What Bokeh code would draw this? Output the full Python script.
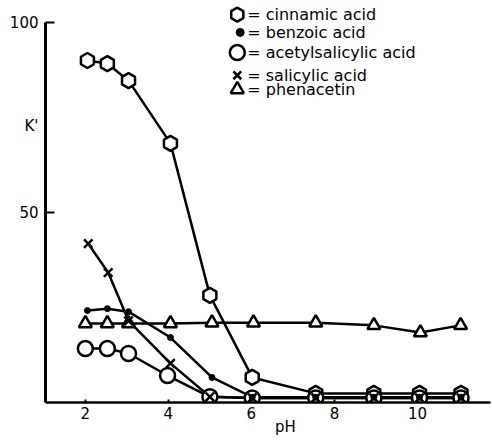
import numpy as np
from bokeh.plotting import figure
from bokeh.models import Range1d, FixedTicker, LinearAxis
from bokeh.core.properties import value
from bokeh.embed import file_html
from bokeh.resources import INLINE

FONT = "DejaVu Sans"

# capacity factor K' versus mobile-phase pH
ph_cinnamic = [2.05, 2.53, 3.04, 4.05, 5.0, 6.02, 7.55, 8.95, 10.05, 11.05]
k_cinnamic = [90.0, 89.2, 84.7, 68.2, 28.2, 6.6, 2.4, 2.4, 2.4, 2.4]

ph_benzoic = [2.05, 2.53, 3.04, 4.05, 5.05, 6.02, 7.55, 8.95, 10.05, 11.05]
k_benzoic = [24.2, 24.7, 23.9, 17.1, 6.6, 1.4, 1.4, 1.4, 1.4, 1.4]

ph_acetylsal = [2.0, 2.53, 3.04, 3.98, 5.0, 6.02, 7.55, 8.95, 10.05, 11.05]
k_acetylsal = [14.2, 14.2, 12.9, 7.1, 1.5, 1.2, 1.2, 1.2, 1.2, 1.2]

ph_salicylic = [2.07, 2.55, 3.04, 4.05, 5.0, 6.02, 7.55, 8.95, 10.05, 11.05]
k_salicylic = [41.8, 34.2, 21.5, 10.3, 1.5, 1.2, 1.2, 1.2, 1.2, 1.2]

ph_phenacetin = [2.0, 2.53, 3.04, 4.05, 5.05, 6.05, 7.55, 8.95, 10.07, 11.04]
k_phenacetin = [20.8, 20.8, 20.8, 20.8, 21.0, 21.0, 21.0, 20.3, 18.4, 20.3]

legend_names = ["= cinnamic acid", "= benzoic acid", "= acetylsalicylic acid",
                "= salicylic acid", "= phenacetin"]

x_ticks = [2, 4, 6, 8, 10]
y_ticks = [50, 100]
y_title_at = 72.9
x_title_at = 6.82

p = figure(width=492, height=440, output_backend="svg", toolbar_location=None,
           x_range=Range1d(1.04, 11.76), y_range=Range1d(0, 105.8),
           min_border_left=45, min_border_right=2, min_border_top=0,
           min_border_bottom=38)
p.outline_line_color = None
p.xgrid.grid_line_color = None
p.ygrid.grid_line_color = None
p.background_fill_color = "white"

p.xaxis.ticker = FixedTicker(ticks=x_ticks)
p.xaxis.minor_tick_line_color = None
p.xaxis.major_tick_in = 3
p.xaxis.major_tick_out = 0
p.xaxis.axis_line_width = 2.5
p.xaxis.major_tick_line_width = 2
p.xaxis.major_label_standoff = 4
p.xaxis.major_label_text_font = FONT
p.xaxis.major_label_text_font_size = "15px"
p.xaxis.major_label_text_color = "black"

# "pH" written under the tick labels by a bare second axis
ph_title = LinearAxis(ticker=FixedTicker(ticks=[x_title_at]),
                      major_label_overrides={x_title_at: "pH"},
                      axis_line_color=None, major_tick_line_color=None,
                      minor_tick_line_color=None, major_tick_in=0,
                      major_tick_out=0, major_label_standoff=-4,
                      major_label_text_font=FONT,
                      major_label_text_font_size="15px",
                      major_label_text_color="black")
p.add_layout(ph_title, "below")

# y axis: tick marks at 50 and 100 (minor ticks), labels plus K' (major ticks)
p.yaxis.ticker = FixedTicker(ticks=[y_ticks[0], y_title_at, y_ticks[1]],
                             minor_ticks=y_ticks)
p.yaxis.major_label_overrides = {y_title_at: "K'"}
p.yaxis.bounds = (0, 100)
p.yaxis.major_tick_line_color = None
p.yaxis.major_tick_in = 0
p.yaxis.major_tick_out = 0
p.yaxis.minor_tick_in = 9
p.yaxis.minor_tick_out = 0
p.yaxis.minor_tick_line_width = 2
p.yaxis.minor_tick_line_color = "black"
p.yaxis.axis_line_width = 3
p.yaxis.major_label_standoff = 7
p.yaxis.major_label_text_font = FONT
p.yaxis.major_label_text_font_size = "15px"
p.yaxis.major_label_text_color = "black"

LW = 2.5
series = [
    (ph_cinnamic, k_cinnamic),
    (ph_benzoic, k_benzoic),
    (ph_acetylsal, k_acetylsal),
    (ph_salicylic, k_salicylic),
    (ph_phenacetin, k_phenacetin),
]
for xs, ys in series:
    p.line(xs, ys, line_color="black", line_width=LW)

# open markers first (white fill knocks out the curves), filled/crossed on top
p.scatter(ph_cinnamic, k_cinnamic, marker="hex", size=15, angle=np.pi / 2,
          fill_color="white", line_color="black", line_width=LW)
p.scatter(ph_acetylsal, k_acetylsal, marker="circle", size=15,
          fill_color="white", line_color="black", line_width=LW)
p.scatter(ph_phenacetin, k_phenacetin, marker="triangle", size=13,
          fill_color="white", line_color="black", line_width=LW)
p.scatter(ph_salicylic, k_salicylic, marker="x", size=12,
          line_color="black", line_width=LW)
p.scatter(ph_benzoic, k_benzoic, marker="circle", size=6,
          fill_color="black", line_color="black")

# key, top right
key_x = 5.66
key_text_x = 5.9
key_y = [102.1, 97.4, 92.1, 86.1, 82.4]
p.scatter([key_x], [key_y[0]], marker="hex", size=14, angle=np.pi / 2,
          fill_color="white", line_color="black", line_width=LW)
p.scatter([key_x + 0.07], [key_y[1]], marker="circle", size=8,
          fill_color="black", line_color="black")
p.scatter([key_x], [key_y[2]], marker="circle", size=15,
          fill_color="white", line_color="black", line_width=LW)
p.scatter([key_x], [key_y[3]], marker="x", size=11,
          line_color="black", line_width=LW)
p.scatter([key_x], [key_y[4]], marker="triangle", size=13,
          fill_color="white", line_color="black", line_width=LW)
p.text([key_text_x] * 5, key_y, text=legend_names, text_font=value(FONT),
       text_font_size="16px", text_baseline="middle", text_align="left",
       text_color="black")

open("out.html", "w").write(file_html(p, INLINE))
